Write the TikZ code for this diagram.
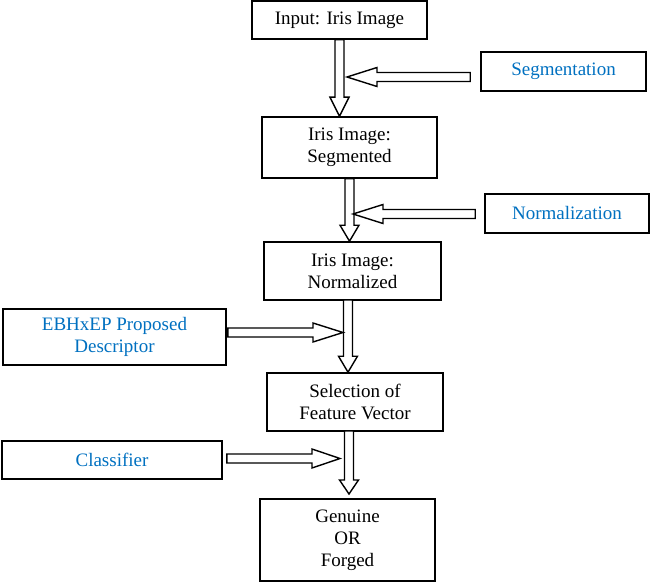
\documentclass[tikz,border=0pt]{standalone}
\usepackage{fontspec}
\setmainfont{Liberation Serif}
\usepackage{xcolor}
\definecolor{Col1}{RGB}{0,112,192}
\usetikzlibrary{calc}
\tikzstyle{Box}=[draw,line width=1.6pt,align=center,inner sep=0pt,
font=\fontsize{19}{22}\selectfont]
\tikzstyle{Side}=[Box,text=Col1]
\tikzstyle{Block}=[draw,line width=1.4pt,line join=miter,fill=white]
\newcommand{\Hollow}[3]{%
  \coordinate (hb) at ($(#2)!#3!(#1)$);
  \draw[Block]($(#1)!4.5pt!90:(#2)$)--($(hb)!4.5pt!90:(#2)$)
    --($(hb)!9.5pt!90:(#2)$)--(#2)--($(hb)!9.5pt!-90:(#2)$)
    --($(hb)!4.5pt!-90:(#2)$)--($(#1)!4.5pt!-90:(#2)$)--cycle;}
\begin{document}
\begin{tikzpicture}[x=1pt,y=-1pt]
    \useasboundingbox (0,0) rectangle (651,583);
        \node[Box,minimum width=175pt,minimum height=38pt](In)at(339.5,20){Input: Iris Image};
        \node[Box,minimum width=175pt,minimum height=61pt](Segd)at(349.5,147.5){Iris Image:\\Segmented};
        \node[Box,minimum width=177pt,minimum height=58pt](Nrmd)at(352.5,271){Iris Image:\\Normalized};
        \node[Box,minimum width=176pt,minimum height=58pt](Sel)at(355,402){Selection of\\Feature Vector};
        \node[Box,minimum width=175pt,minimum height=82pt](Out)at(347.5,540){Genuine\\OR\\Forged};
        \node[Side,minimum width=165pt,minimum height=39pt](Seg)at(563.5,71.5){Segmentation};
        \node[Side,minimum width=164pt,minimum height=39pt](Norm)at(567,213.5){Normalization};
        \node[Side,minimum width=223pt,minimum height=56pt](EBH)at(114.5,337){EBHxEP Proposed\\Descriptor};
        \node[Side,minimum width=220pt,minimum height=38pt](Class)at(112,460){Classifier};
        % main flow
        \coordinate(v3)at(348,300);
        \coordinate(v4)at(349,431);
        \coordinate(w4)at(349,494);
        \Hollow{In.south}{In.south |- Segd.north}{19pt}
        \Hollow{Segd.south}{Segd.south |- Nrmd.north}{16pt}
        \Hollow{v3}{v3 |- Sel.north}{16pt}
        \Hollow{v4}{w4}{14pt}
        % side inputs
        \coordinate(j1)at(347,77);
        \coordinate(j2)at(353,214);
        \coordinate(j3)at(343,332.5);
        \coordinate(j4)at(340,458.5);
        \Hollow{$(Seg.west)+(-10,5.5)$}{j1}{30pt}
        \Hollow{$(Norm.west)+(-9,0.5)$}{j2}{30pt}
        \Hollow{$(EBH.east)+(1,-4.5)$}{j3}{30pt}
        \Hollow{$(Class.east)+(4,-1.5)$}{j4}{28pt}
\end{tikzpicture}
\end{document}
